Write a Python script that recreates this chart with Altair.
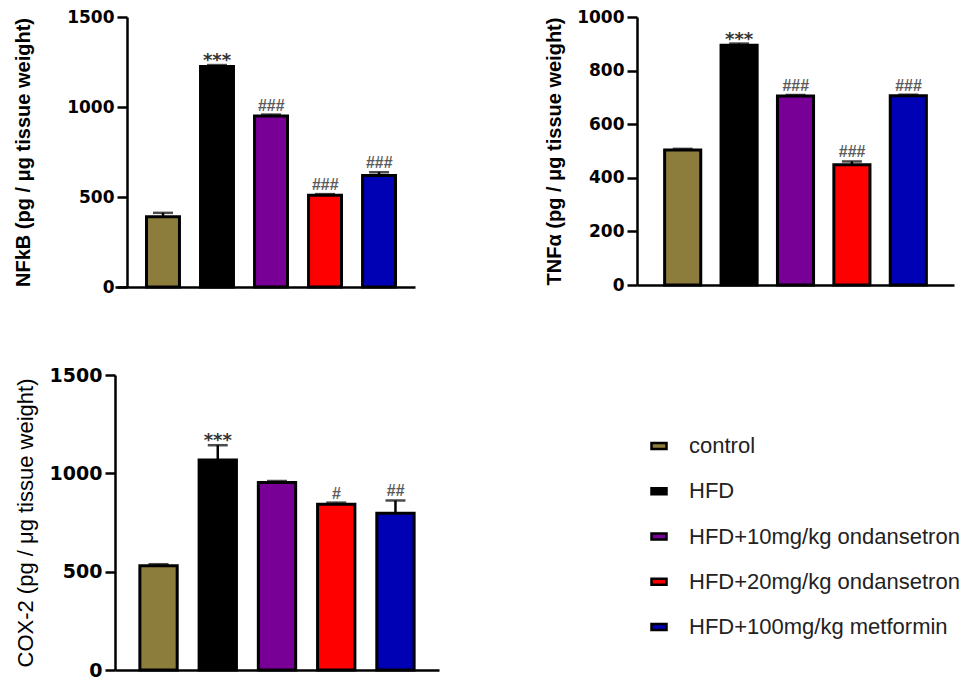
import altair as alt
import pandas as pd

groups = ["control", "HFD", "HFD+10mg/kg ondansetron", "HFD+20mg/kg ondansetron", "HFD+100mg/kg metformin"]

nfkb_mean = [390, 1225, 950, 510, 620]
nfkb_sem = [22, 8, 8, 6, 18]
nfkb_sig = ["", "***", "###", "###", "###"]

tnf_mean = [504, 895, 705, 449, 706]
tnf_sem = [4, 6, 4, 12, 4]
tnf_sig = ["", "***", "###", "###", "###"]

cox_mean = [530, 1068, 953, 843, 797]
cox_sem = [8, 75, 8, 8, 65]
cox_sig = ["", "***", "", "#", "##"]

colors_1 = ["#8C7D3C", "#000000", "#780096", "#FF0000", "#0000B4"]
colors_2 = ["#8C7D3C", "#000000", "#780096", "#FF0000", "#0000F5"]
colors_3 = ["#8C7D3C", "#000000", "#780096", "#FF0000", "#0000C8"]
colors_legend = ["#8C7D3C", "#000000", "#780096", "#FF0000", "#0000DD"]


def panel(means, sems, sig, title, colors, w, h, ticks, pi, po, palign,
          title_size, title_weight, label_size, title_pad, yoffset):
    df = pd.DataFrame({
        "group": groups,
        "mean": means,
        "top": [m + s for m, s in zip(means, sems)],
        "sig": sig,
    })
    xs = alt.Scale(paddingInner=pi, paddingOuter=po, align=palign)
    xaxis = alt.Axis(labels=False, ticks=False, title=None, domainWidth=2.5,
                     domainColor="black", grid=False)
    ys = alt.Scale(domain=[0, ticks[-1]], nice=False)
    yaxis = alt.Axis(values=ticks, format="d", grid=False, tickSize=10, tickWidth=2.5,
                     tickColor="black", domainWidth=2.5, domainColor="black",
                     labelFont="DejaVu Sans", labelFontWeight="bold",
                     labelFontSize=label_size, labelColor="black", labelPadding=3,
                     titleFont="Liberation Sans", titleFontWeight=title_weight,
                     titleFontSize=title_size, titleColor="black",
                     titlePadding=title_pad, offset=yoffset)

    def X():
        return alt.X("group:N", sort=groups, scale=xs, axis=xaxis)

    def Y(field):
        return alt.Y(field, scale=ys, axis=yaxis, title=title)

    base = alt.Chart(df)
    bars = base.mark_bar(stroke="black", strokeWidth=3).encode(
        x=X(), y=Y("mean:Q"),
        fill=alt.Fill("group:N", sort=groups,
                      scale=alt.Scale(domain=groups, range=colors),
                      legend=None))
    rule = base.mark_rule(color="black", strokeWidth=2.5).encode(
        x=X(), y=Y("mean:Q"), y2="top:Q")
    cap = base.mark_tick(color="black", size=20, thickness=2.5).encode(
        x=X(), y=Y("top:Q"))
    stars = base.transform_filter("datum.sig == '***'").mark_text(
        baseline="alphabetic", dy=1, font="DejaVu Sans", fontWeight="bold",
        fontSize=18, color="#333333").encode(x=X(), y=Y("top:Q"), text="sig:N")
    hashes = base.transform_filter("indexof(datum.sig, '#') >= 0").mark_text(
        baseline="alphabetic", dy=-4, font="Liberation Sans", fontStyle="italic",
        fontWeight="bold", fontSize=16, color="#5A5A5A").encode(
        x=X(), y=Y("top:Q"), text="sig:N")
    return alt.layer(bars, rule, cap, stars, hashes).properties(width=w, height=h)


p1 = panel(nfkb_mean, nfkb_sem, nfkb_sig, "NFkB (pg / μg tissue weight)", colors_1,
           300, 270, [0, 500, 1000, 1500], 0.39, 0.472, 0.618, 20, "bold", 17, 33, -12)
p2 = panel(tnf_mean, tnf_sem, tnf_sig, "TNFα (pg / μg tissue weight)", colors_2,
           317, 268, [0, 200, 400, 600, 800, 1000], 0.36, 0.49, 0.5, 20, "bold", 17, 12, 0)
p3 = panel(cox_mean, cox_sem, cox_sig, "COX-2 (pg / μg tissue weight)", colors_3,
           324, 295, [0, 500, 1000, 1500], 0.37, 0.42, 0.5, 22, "normal", 19, 12, 0)

leg_df = pd.DataFrame({"group": groups})
leg_y = alt.Y("group:N", sort=groups, axis=None,
              scale=alt.Scale(type="point", range=[71, 252], padding=0))
leg_sym = alt.Chart(leg_df).mark_point(
    shape="M-1,-0.4H1V0.4H-1Z", size=225, filled=True, opacity=1,
    stroke="black", strokeWidth=2.5
).encode(
    x=alt.value(91), y=leg_y,
    fill=alt.Fill("group:N", sort=groups,
                  scale=alt.Scale(domain=groups, range=colors_legend), legend=None),
)
leg_txt = alt.Chart(leg_df).mark_text(
    align="left", baseline="middle", font="Liberation Sans", fontSize=22,
    color="#222222"
).encode(x=alt.value(121), y=leg_y, text="group:N")
legend = alt.layer(leg_sym, leg_txt).properties(width=385, height=285)

row1 = alt.hconcat(p1, p2, spacing=129).resolve_scale(
    color="independent", y="independent", x="independent")
row2 = alt.hconcat(p3, legend, spacing=129).resolve_scale(
    color="independent", y="independent", x="independent")

chart = alt.vconcat(row1, row2, spacing=71).resolve_scale(
    color="independent", y="independent", x="independent"
).properties(
    padding={"left": 5, "top": 0, "right": 0, "bottom": 0},
    background="white",
).configure_view(stroke=None)

chart.save("out.html", embed_options={"renderer": "svg", "actions": False})
